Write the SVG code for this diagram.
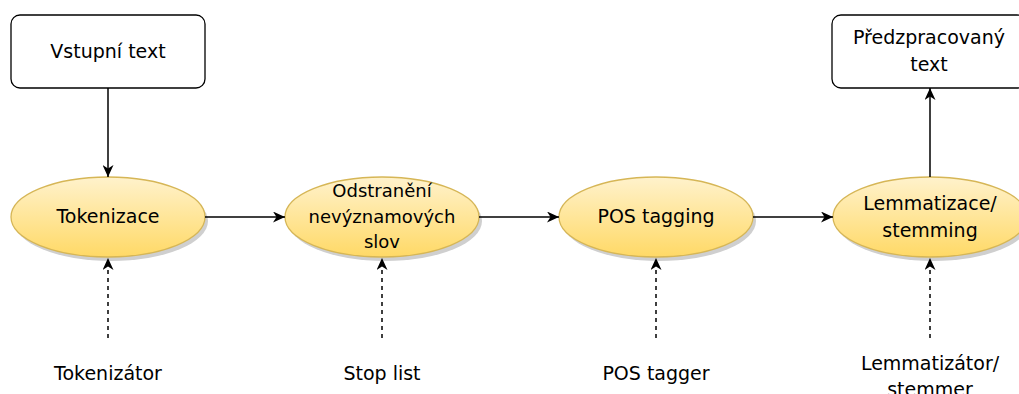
<svg xmlns="http://www.w3.org/2000/svg" width="1019" height="394" viewBox="0 0 1019 394">
<style>
text{font-family:"DejaVu Sans","Verdana",sans-serif;font-size:19px;fill:#000;text-anchor:middle}
.sm{font-size:18px}
.box{fill:#fff;stroke:#000;stroke-width:1.3}
.ell{fill:url(#yg);stroke:#d6b656;stroke-width:1.3}
.sh{fill:#cfcfcf}
.c{fill:none;stroke:#000;stroke-width:1.5}
.d{stroke-dasharray:4 4}
</style>
<defs>
<linearGradient id="yg" x1="0" y1="0" x2="0" y2="1">
<stop offset="0" stop-color="#fff2cc"/>
<stop offset="1" stop-color="#ffd966"/>
</linearGradient>
<marker id="ah" viewBox="0 0 12 11" refX="12" refY="5.5" markerWidth="12" markerHeight="11" orient="auto" markerUnits="userSpaceOnUse">
<path d="M0,0 L12,5.5 L0,11 L3.5,5.5 Z" fill="#000"/>
</marker>
</defs>

<g id="vstupni-text">
<rect class="box" x="11" y="15" width="194" height="73" rx="9"/>
<text x="108" y="58">Vstupní text</text>
</g>

<g id="predzpracovany-text">
<rect class="box" x="832" y="15" width="194" height="73" rx="9"/>
<text x="929" y="44">Předzpracovaný</text>
<text x="929" y="71">text</text>
</g>

<g id="tokenizace">
<ellipse class="sh" cx="111" cy="221" rx="97" ry="40"/>
<ellipse class="ell" cx="108" cy="217" rx="97" ry="40"/>
<text x="108" y="223">Tokenizace</text>
</g>

<g id="odstraneni">
<ellipse class="sh" cx="385" cy="221" rx="97" ry="40"/>
<ellipse class="ell" cx="382" cy="217" rx="97" ry="40"/>
<text class="sm" x="382" y="197">Odstranění</text>
<text class="sm" x="382" y="223">nevýznamových</text>
<text class="sm" x="382" y="248">slov</text>
</g>

<g id="pos-tagging">
<ellipse class="sh" cx="659" cy="221" rx="97" ry="40"/>
<ellipse class="ell" cx="656" cy="217" rx="97" ry="40"/>
<text x="656" y="223">POS tagging</text>
</g>

<g id="lemmatizace">
<ellipse class="sh" cx="933" cy="221" rx="97" ry="40"/>
<ellipse class="ell" cx="930" cy="217" rx="97" ry="40"/>
<text x="930" y="210">Lemmatizace/</text>
<text x="930" y="237">stemming</text>
</g>

<g id="tokenizator"><text x="108" y="380">Tokenizátor</text></g>
<g id="stop-list"><text x="382" y="380">Stop list</text></g>
<g id="pos-tagger"><text x="656" y="380">POS tagger</text></g>
<g id="lemmatizator"><text x="930" y="370">Lemmatizátor/</text><text x="930" y="396">stemmer</text></g>

<g id="connectors">
<path class="c" d="M108,88 V177" marker-end="url(#ah)"/>
<path class="c" d="M205,217 H285" marker-end="url(#ah)"/>
<path class="c" d="M479,217 H559" marker-end="url(#ah)"/>
<path class="c" d="M753,217 H833" marker-end="url(#ah)"/>
<path class="c" d="M930,177 V88" marker-end="url(#ah)"/>
<path class="c d" d="M108,338 V258" marker-end="url(#ah)"/>
<path class="c d" d="M382,338 V258" marker-end="url(#ah)"/>
<path class="c d" d="M656,338 V258" marker-end="url(#ah)"/>
<path class="c d" d="M930,338 V258" marker-end="url(#ah)"/>
</g>
</svg>
